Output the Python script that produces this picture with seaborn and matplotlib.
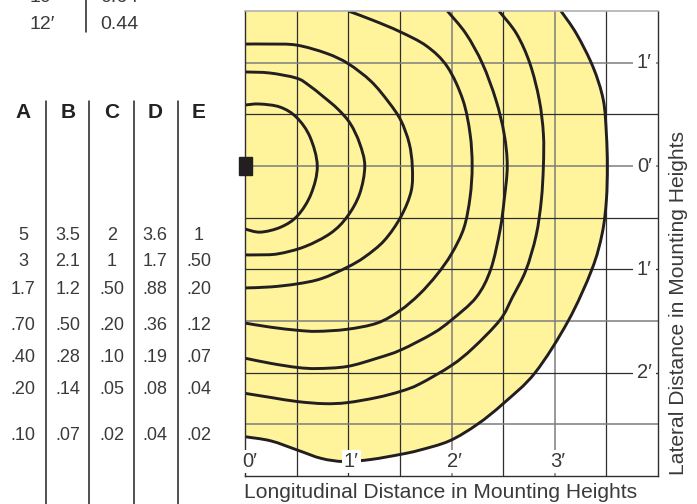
import numpy as np
import matplotlib
matplotlib.use("Agg")
import matplotlib.pyplot as plt
from matplotlib.patches import Rectangle, PathPatch
from matplotlib.path import Path
import seaborn as sns

# ---- isofootcandle contours (longitudinal, lateral) in mounting heights ----
c1_x = [0.00, 0.14, 0.34, 0.50, 0.63, 0.70, 0.64, 0.51, 0.35, 0.15, 0.00]
c1_y = [0.59, 0.60, 0.57, 0.47, 0.28, 0.00, -0.27, -0.48, -0.59, -0.64, -0.61]

c2_x = [0.00, 0.24, 0.50, 0.62, 0.76, 0.90, 1.02, 1.11, 1.16, 1.11, 0.99, 0.83, 0.58, 0.32, 0.12, 0.00]
c2_y = [0.91, 0.90, 0.85, 0.78, 0.67, 0.55, 0.41, 0.22, 0.00, -0.27, -0.49, -0.65, -0.78, -0.85,
        -0.86, -0.86]

c3_x = [0.00, 0.24, 0.50, 0.79, 1.00, 1.22, 1.39, 1.51, 1.59, 1.62, 1.61, 1.51, 1.35, 1.16, 0.99,
        0.74, 0.51, 0.25, 0.00]
c3_y = [1.18, 1.18, 1.17, 1.09, 0.99, 0.82, 0.62, 0.44, 0.22, 0.00, -0.24, -0.49, -0.72, -0.88,
        -0.98, -1.09, -1.14, -1.17, -1.18]

c4_x = [1.00, 1.24, 1.50, 1.76, 1.96, 2.11, 2.18, 2.20, 2.18, 2.12, 2.00, 1.86, 1.69, 1.50, 1.28,
        0.99, 0.70, 0.51, 0.25, 0.00]
c4_y = [1.50, 1.41, 1.30, 1.16, 0.96, 0.64, 0.31, 0.00, -0.30, -0.60, -0.85, -1.05, -1.24, -1.40,
        -1.52, -1.58, -1.60, -1.59, -1.56, -1.52]

c5_x = [1.96, 2.14, 2.30, 2.43, 2.51, 2.54, 2.51, 2.47, 2.38, 2.24, 2.00, 1.82, 1.51, 1.28, 0.99,
        0.70, 0.51, 0.25, 0.00]
c5_y = [1.50, 1.28, 0.99, 0.64, 0.31, 0.00, -0.33, -0.62, -1.00, -1.27, -1.49, -1.62, -1.78, -1.86,
        -1.94, -1.96, -1.95, -1.91, -1.86]

c6_x = [2.46, 2.63, 2.76, 2.85, 2.89, 2.89, 2.87, 2.82, 2.72, 2.59, 2.47, 2.21, 2.00, 1.69, 1.51,
        1.28, 0.99, 0.77, 0.51, 0.25, 0.00]
c6_y = [1.50, 1.28, 0.99, 0.64, 0.31, 0.00, -0.33, -0.67, -1.01, -1.27, -1.49, -1.76, -1.93, -2.11,
        -2.18, -2.24, -2.29, -2.30, -2.28, -2.24, -2.20]

outer_x = [3.06, 3.21, 3.37, 3.47, 3.50, 3.51, 3.50, 3.46, 3.36, 3.13, 2.81, 2.50, 2.25, 1.98,
           1.69, 1.51, 1.22, 0.96, 0.74, 0.51, 0.25, 0.00]
outer_y = [1.50, 1.28, 0.96, 0.64, 0.31, 0.00, -0.33, -0.65, -1.00, -1.50, -2.00, -2.30, -2.50,
           -2.66, -2.75, -2.79, -2.84, -2.86, -2.83, -2.75, -2.66, -2.62]

# ---- grid and scale labels ----
x_grid_dark = [0.5, 1.0, 1.5, 2.5, 3.5]
x_grid_light = [2.0, 3.0]
y_grid_dark = [0.5, -0.5, -1.0, -2.0]
y_grid_light = [1.0, 0.0, -1.5, -2.5]
x_tick_vals = [0, 1, 2, 3]
x_tick_labels = ["0′", "1′", "2′", "3′"]
y_tick_vals = [1, 0, -1, -2]
y_tick_labels = ["1′", "0′", "1′", "2′"]

# ---- footcandle table ----
col_heads = ["A", "B", "C", "D", "E"]
col_A = ["5", "3", "1.7", ".70", ".40", ".20", ".10"]
col_B = ["3.5", "2.1", "1.2", ".50", ".28", ".14", ".07"]
col_C = ["2", "1", ".50", ".20", ".10", ".05", ".02"]
col_D = ["3.6", "1.7", ".88", ".36", ".19", ".08", ".04"]
col_E = ["1", ".50", ".20", ".12", ".07", ".04", ".02"]
mh_labels = ["10′", "12′"]
mh_values = ["0.64", "0.44"]

# ---- style ----
sns.set_theme(style="white")
plt.rcParams["font.family"] = ["Liberation Sans", "DejaVu Sans"]
TXT = "#3a3a3a"
YELLOW = "#FFF49C"
INK = "#231f20"

W, H = 697, 504
fig = plt.figure(figsize=(W / 100, H / 100), dpi=100)
fig.patch.set_facecolor("white")


def px(x, y):
    return x / W, 1 - y / H


def curve_segments(xs, ys):
    """Cubic Bezier segments passing through every listed point (Catmull-Rom tangents)."""
    P = np.column_stack([xs, ys]).astype(float)
    n = len(P)
    verts, codes = [], []
    for i in range(n - 1):
        p0 = P[i - 1] if i > 0 else P[i]
        p1, p2 = P[i], P[i + 1]
        p3 = P[i + 2] if i + 2 < n else P[i + 1]
        verts += [p1 + (p2 - p0) / 6, p2 - (p3 - p1) / 6, p2]
        codes += [Path.CURVE4] * 3
    return verts, codes


def curve_path(xs, ys):
    verts, codes = curve_segments(xs, ys)
    return Path([(xs[0], ys[0])] + verts, [Path.MOVETO] + codes)


ax = fig.add_axes([245 / W, (H - 476) / H, (658 - 245) / W, (476 - 11) / H])
ax.set_xlim(0, 4)
ax.set_ylim(-3, 1.5)
ax.set_xticks([])
ax.set_yticks([])
ax.set_facecolor("white")

# illuminated area
ov, oc = curve_segments(outer_x, outer_y)
fill_path = Path([(0, 1.5), (outer_x[0], outer_y[0])] + ov + [(0, 1.5)],
                 [Path.MOVETO, Path.LINETO] + oc + [Path.CLOSEPOLY])
ax.add_patch(PathPatch(fill_path, fc=YELLOW, ec="none", zorder=0.5))

# grid
for v in x_grid_dark:
    ax.axvline(v, color="#2e2e2e", lw=0.9, zorder=1)
for v in x_grid_light:
    ax.axvline(v, color="#7d7d7d", lw=1.1, zorder=1)
for v in y_grid_dark:
    ax.axhline(v, color="#2e2e2e", lw=0.9, zorder=1)
for v in y_grid_light:
    ax.axhline(v, color="#7d7d7d", lw=1.1, zorder=1)

# contour lines
for xs, ys in [(c1_x, c1_y), (c2_x, c2_y), (c3_x, c3_y), (c4_x, c4_y),
               (c5_x, c5_y), (c6_x, c6_y), (outer_x, outer_y)]:
    ax.add_patch(PathPatch(curve_path(xs, ys), fc="none", ec=INK, lw=2.1,
                           capstyle="butt", joinstyle="round", zorder=2))

# luminaire
ax.add_patch(Rectangle((-0.06, -0.09), 0.125, 0.18, color=INK, clip_on=False, zorder=5))

for s in ["left", "bottom", "right"]:
    ax.spines[s].set_color("#2e2e2e")
    ax.spines[s].set_linewidth(1.0)
ax.spines["top"].set_color("#b0b0b0")
ax.spines["top"].set_linewidth(1.2)

box = dict(fc="white", ec="none", pad=1.5)
for v, lab in zip(x_tick_vals, x_tick_labels):
    if v == 0:
        ax.text(-0.03, -2.86, lab, ha="left", va="center", fontsize=14.5, color=TXT,
                bbox=box, zorder=4)
    else:
        ax.text(v + 0.03, -2.86, lab, ha="center", va="center", fontsize=14.5, color=TXT,
                bbox=box, zorder=4)
for v, lab in zip(y_tick_vals, y_tick_labels):
    ax.text(3.94, v, lab, ha="right", va="center", fontsize=14.5, color=TXT,
            bbox=dict(fc="white", ec="none", pad=3), zorder=4)

fig.text(*px(244, 493), "Longitudinal Distance in Mounting Heights", ha="left",
         va="center", fontsize=15.1, color=TXT)
fig.text(*px(679, 475), "Lateral Distance in Mounting Heights", ha="center",
         va="bottom", rotation=90, fontsize=15.1, color=TXT)

# table
col_x = [23, 68, 112, 155, 199]
row_y = [236, 261, 289, 325, 357, 390, 436]
for cx, head, vals in zip(col_x, col_heads, [col_A, col_B, col_C, col_D, col_E]):
    fig.text(*px(cx, 113), head, ha="center", va="center", fontsize=15,
             fontweight="bold", color="#222222")
    for ry, val in zip(row_y, vals):
        fig.text(*px(cx, ry), val, ha="center", va="center", fontsize=13, color=TXT)
for lx in [45.7, 89.3, 134, 177.7]:
    fig.add_artist(plt.Line2D([lx / W, lx / W], [1 - 101 / H, 0], color=INK, lw=1.1))

# mounting height table (top)
for ry, lab, val in zip([-2, 24.5], mh_labels, mh_values):
    fig.text(*px(55, ry), lab, ha="right", va="center", fontsize=14, color=TXT)
    fig.text(*px(100, ry), val, ha="left", va="center", fontsize=14, color=TXT)
fig.add_artist(plt.Line2D([85.7 / W, 85.7 / W], [1, 1 - 32 / H], color=INK, lw=1.1))

fig.savefig("out.png", dpi=100, facecolor="white")
